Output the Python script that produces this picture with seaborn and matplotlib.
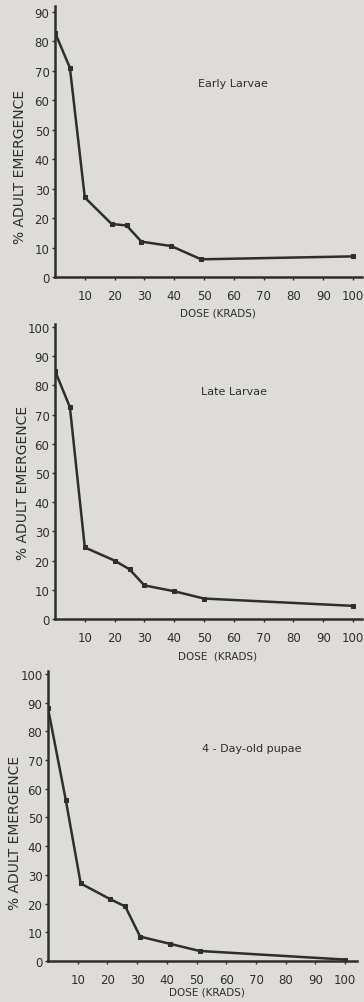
import pandas as pd
import seaborn as sns
import matplotlib.pyplot as plt

# dose (krads) vs % adult emergence
early_dose = [0, 5, 10, 19, 24, 29, 39, 49, 100]
early_emerg = [83, 71, 27, 18, 17.5, 12, 10.5, 6, 7]

late_dose = [0, 5, 10, 20, 25, 30, 40, 50, 100]
late_emerg = [85, 72.5, 24.5, 20, 17, 11.5, 9.5, 7, 4.5]

pupae_dose = [0, 6, 11, 21, 26, 31, 41, 51, 100]
pupae_emerg = [88, 56, 27, 21.5, 19, 8.5, 6, 3.5, 0.5]

x_ticks = [10, 20, 30, 40, 50, 60, 70, 80, 90, 100]
labels = ["Early Larvae", "Late Larvae", "4 - Day-old pupae"]

bg = "#dddcd9"
ink = "#2e2e2e"

sns.set_style("ticks")
plt.rcParams['font.family'] = ['DejaVu Sans']

fig = plt.figure(figsize=(3.64, 10.03), dpi=100, facecolor=bg)

W, H = 364, 1003
# (axis x px, y0 px, top px, right px, ymax, xmax)
panels = [
    (55, 278, 7, 362, 92, 103),
    (55, 620, 325, 362, 101, 103),
    (48, 962, 672, 357, 101, 104),
]
series = [(early_dose, early_emerg), (late_dose, late_emerg), (pupae_dose, pupae_emerg)]
text_pos = [(48, 65), (49, 77), (52, 73)]
xlab_pos = [(218, 313), (218, 657), (207, 993)]
ylab_pos = [(20, 167), (23, 483), (15, 833)]

for i, (px0, py0, ptop, pright, ymax, xmax) in enumerate(panels):
    ax = fig.add_axes([px0 / W, 1 - py0 / H, (pright - px0) / W, (py0 - ptop) / H])
    ax.set_facecolor(bg)
    df = pd.DataFrame({"dose": series[i][0], "emergence": series[i][1]})
    sns.lineplot(data=df, x="dose", y="emergence", ax=ax, color=ink, lw=1.8,
                 marker="s", markersize=3, markeredgecolor=ink)
    ax.set_xlim(0, xmax)
    ax.set_ylim(0, ymax)
    ax.set_xticks(x_ticks)
    yt = list(range(0, 91, 10)) if i == 0 else list(range(0, 101, 10))
    ax.set_yticks(yt)
    ax.tick_params(colors=ink, labelsize=8.5, length=2.5, width=1)
    ax.tick_params(axis="x", pad=6)
    ax.tick_params(axis="y", pad=1.5)
    for s in ["top", "right"]:
        ax.spines[s].set_visible(False)
    for s in ["left", "bottom"]:
        ax.spines[s].set_color(ink)
        ax.spines[s].set_linewidth(1.8)
    ax.set_xlabel("")
    ax.set_ylabel("")
    ax.text(text_pos[i][0], text_pos[i][1], labels[i], fontsize=8, color=ink)
    fig.text(ylab_pos[i][0] / W, 1 - ylab_pos[i][1] / H, "% ADULT EMERGENCE",
             rotation=90, fontsize=10, color=ink, ha="center", va="center")
    fig.text(xlab_pos[i][0] / W, 1 - xlab_pos[i][1] / H,
             "DOSE  (KRADS)" if i == 1 else "DOSE (KRADS)",
             fontsize=7.5, color=ink, ha="center", va="center")

fig.savefig("out.png", dpi=100, facecolor=bg)
